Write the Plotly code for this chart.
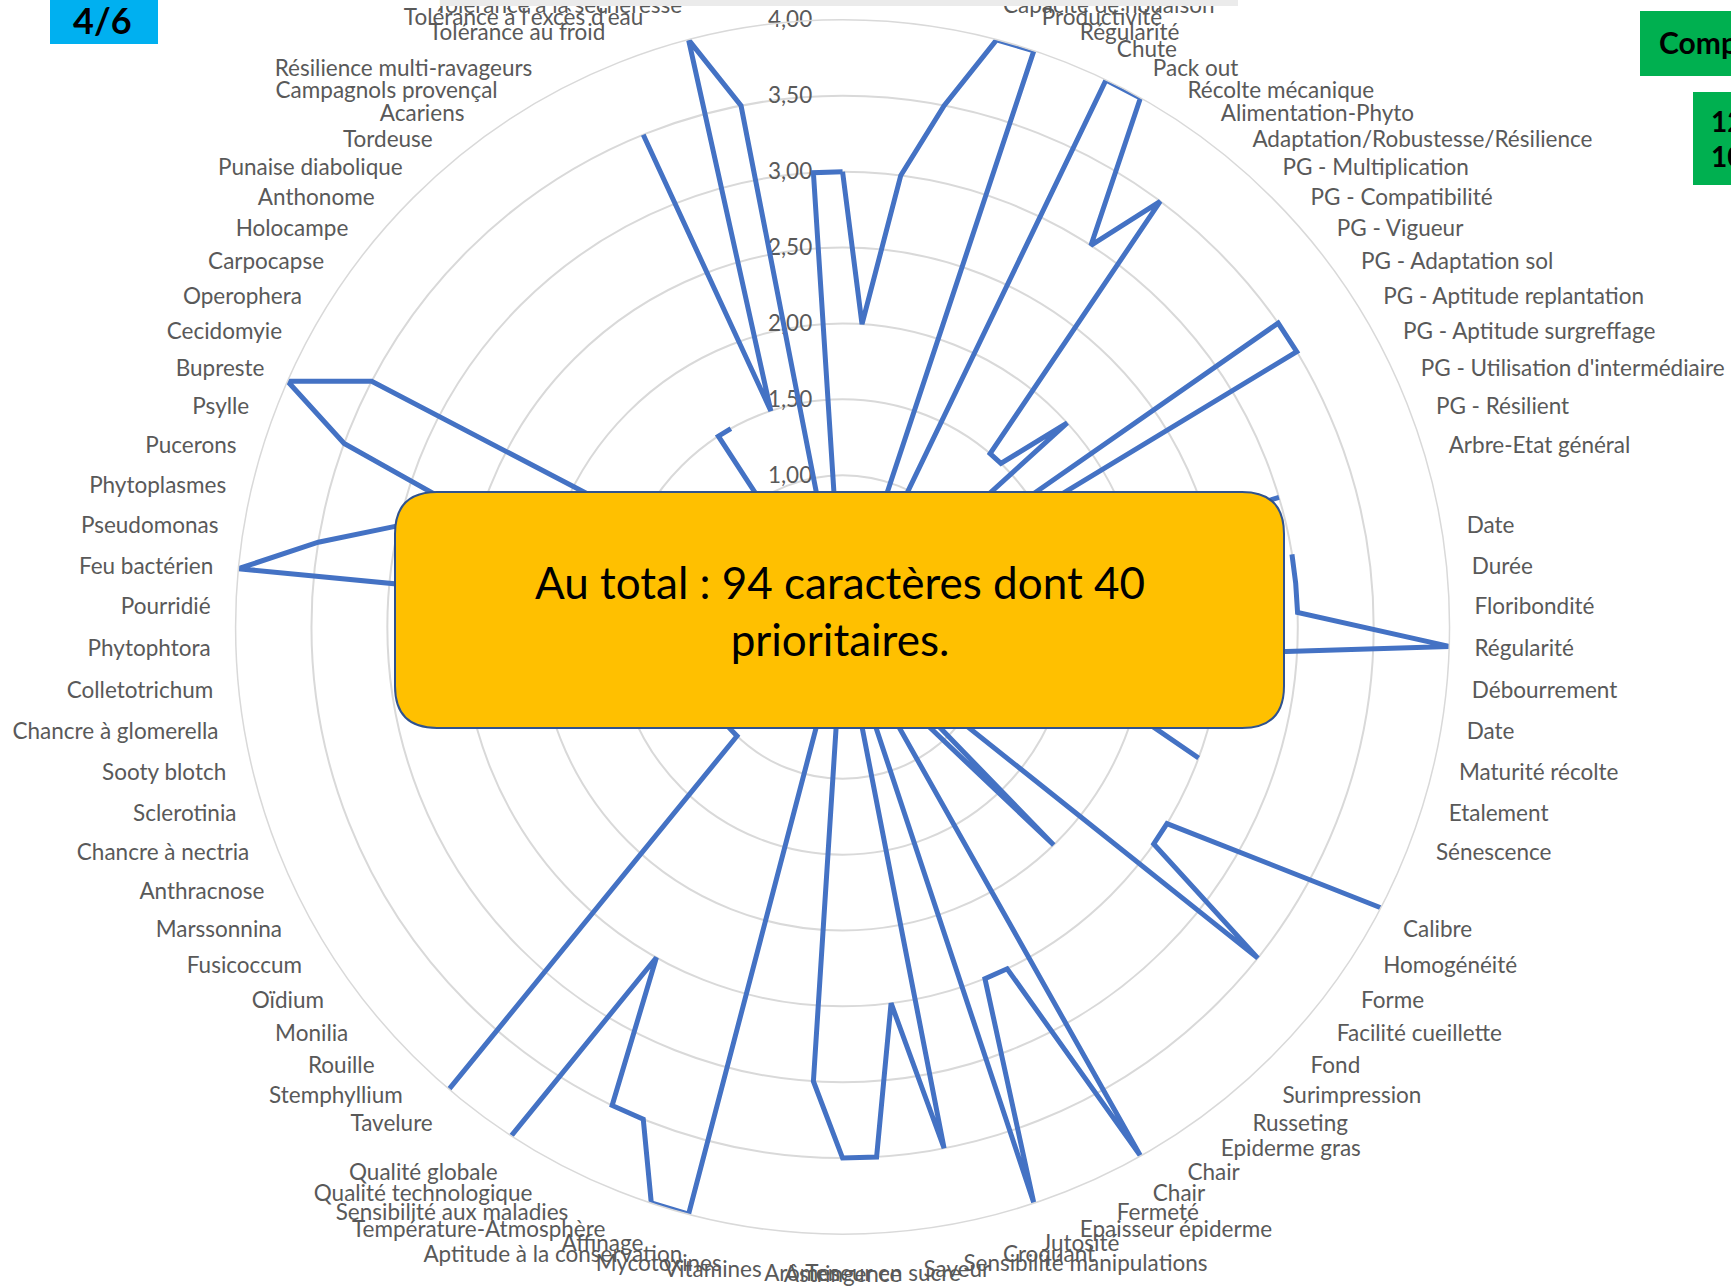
import plotly.graph_objects as go

W, H = 1731, 1287

# catégories (sens horaire, en partant du haut) ; "" = séparateur de groupe
categories = [
    "Arbre-Port", "Arbre-Architecture", "Arbre-Ramification", "Mise à fruit",
    "Capacité de nouaison", "Productivité", "Régularité", "Chute", "Pack out",
    "Récolte mécanique", "Alimentation-Phyto", "Adaptation/Robustesse/Résilience",
    "PG - Multiplication", "PG - Compatibilité", "PG - Vigueur", "PG - Adaptation sol",
    "PG - Aptitude replantation", "PG - Aptitude surgreffage",
    "PG - Utilisation d'intermédiaire", "PG - Résilient", "Arbre-Etat général", "",
    "Date", "Durée", "Floribondité", "Régularité", "Débourrement", "Date",
    "Maturité récolte", "Etalement", "Sénescence", "",
    "Calibre", "Homogénéité", "Forme", "Facilité cueillette", "Fond", "Surimpression",
    "Russeting", "Epiderme gras", "Chair", "Chair", "Fermeté", "Epaisseur épiderme",
    "Jutosité", "Croquant", "Sensibilité manipulations", "Saveur", "Teneur en sucre",
    "Astringence", "Arômes", "Vitamines", "Mycotoxines", "Aptitude à la conservation",
    "Affinage", "Température-Atmosphère", "Sensibilité aux maladies",
    "Qualité technologique", "Qualité globale", "",
    "Tavelure", "Stemphyllium", "Rouille", "Monilia", "Oïdium", "Fusicoccum",
    "Marssonnina", "Anthracnose", "Chancre à nectria", "Sclerotinia", "Sooty blotch",
    "Chancre à glomerella", "Colletotrichum", "Phytophtora", "Pourridié",
    "Feu bactérien", "Pseudomonas", "Phytoplasmes", "Pucerons", "Psylle", "Bupreste",
    "Cecidomyie", "Operophera", "Carpocapse", "Holocampe", "Anthonome",
    "Punaise diabolique", "Tordeuse", "Acariens", "Campagnols provençal",
    "Résilience multi-ravageurs", "",
    "Tolérance au froid", "Tolérance à l'excès d'eau", "Tolérance à la sécheresse",
    "Tolérance à la chaleur", "Tolérance aux coups de soleil", "Arbre-Vigueur",
]

# notes (None = case vide -> trou dans la ligne)
values = [
    3.0, 2.0, 3.0, 3.5, 4.0, 4.0, 0, 4.0, 4.0, 3.0,
    3.5, 1.5, 1.5, 2.0, 0, 3.5, 3.5, 0, 0, 0,
    3.0, None, 3.0, 3.0, 3.0, 4.0, 2.0, 0, 0, 2.0,
    2.5, None, 4.0, 2.5, 2.5, 3.5, 0, 2.0, 0.8, 0,
    0, 4.0, 2.5, 2.5, 4.0, 0, 3.5, 2.5, 3.5, 3.5,
    3.0, 0, 0, 4.0, 4.0, 3.5, 3.5, 2.5, 4.0, None,
    4.0, 1.0, 1.0, 0, 0, 0, 0, 0, 0, 0,
    0, 0, 0, 0, 0, 4.0, 3.5, 3.0, 2.5, 3.5,
    4.0, 3.5, 0, 0, 0, 0, 0, 0, 0, 1.5,
    1.5, None, 3.5, 1.5, 4.0, 3.5, 0, 3.0,
]

# plotly fusionne les catégories identiques : on les rend uniques avec des espaces invisibles
seen = {}
cats = []
for c in categories:
    n = seen.get(c, 0)
    seen[c] = n + 1
    if c == "":
        cats.append("\u200b" * (n + 1))
    else:
        cats.append(c + "\u200b" * n)

fig = go.Figure()
fig.add_trace(go.Scatterpolar(
    r=values + [values[0]],
    theta=cats + [cats[0]],
    mode="lines",
    connectgaps=False,
    line={"color": "#4472C4", "width": 5},
    hoverinfo="skip",
))


def px_x(x):
    return x / W


def px_y(y):
    return 1 - y / H


def rounded_box(l, t, r, b, rad):
    pts = [
        f"M {px_x(l + rad)},{px_y(t)}",
        f"L {px_x(r - rad)},{px_y(t)}",
        f"Q {px_x(r)},{px_y(t)} {px_x(r)},{px_y(t + rad)}",
        f"L {px_x(r)},{px_y(b - rad)}",
        f"Q {px_x(r)},{px_y(b)} {px_x(r - rad)},{px_y(b)}",
        f"L {px_x(l + rad)},{px_y(b)}",
        f"Q {px_x(l)},{px_y(b)} {px_x(l)},{px_y(b - rad)}",
        f"L {px_x(l)},{px_y(t + rad)}",
        f"Q {px_x(l)},{px_y(t)} {px_x(l + rad)},{px_y(t)}",
        "Z",
    ]
    return " ".join(pts)


def rect(x0, y0, x1, y1, color):
    return {"type": "rect", "xref": "paper", "yref": "paper", "layer": "above",
            "x0": px_x(x0), "x1": px_x(x1), "y0": px_y(y1), "y1": px_y(y0),
            "fillcolor": color, "line": {"width": 0}}


def note(x, y, text, size, anchor="center"):
    return {"xref": "paper", "yref": "paper", "x": px_x(x), "y": px_y(y),
            "xanchor": anchor, "yanchor": "middle", "text": text,
            "showarrow": False, "align": "center",
            "font": {"family": "Lato, Calibri, sans-serif", "size": size, "color": "black"}}


label_font = {"family": "Lato, Calibri, sans-serif", "size": 22.5, "color": "#595959"}

fig.update_layout(
    width=W, height=H,
    margin={"l": 0, "r": 0, "t": 0, "b": 0},
    paper_bgcolor="white",
    separators=", ",
    showlegend=False,
    polar={
        "domain": {"x": [0.1361, 0.8374], "y": [0.0412, 0.9845]},
        "bgcolor": "white",
        "gridshape": "circular",
        "radialaxis": {
            "range": [0, 4], "tick0": 0, "dtick": 0.5, "tickformat": ".2f",
            "angle": 90, "tickangle": 90, "side": "counterclockwise",
            "showline": False, "ticks": "outside", "ticklen": 22,
            "tickcolor": "rgba(0,0,0,0)", "gridcolor": "#D9D9D9", "gridwidth": 1.5,
            "tickfont": label_font, "layer": "below traces",
        },
        "angularaxis": {
            "type": "category", "categoryarray": cats, "tickmode": "array",
            "tickvals": cats, "ticktext": cats,
            "rotation": 90, "direction": "clockwise",
            "showgrid": False, "showline": True, "linecolor": "#D9D9D9",
            "linewidth": 1.5, "ticks": "outside", "ticklen": 20,
            "tickcolor": "rgba(0,0,0,0)", "tickfont": label_font,
        },
    },
    shapes=[
        {"type": "path", "xref": "paper", "yref": "paper", "layer": "above",
         "path": rounded_box(395, 492, 1284, 728, 42),
         "fillcolor": "#FFC000", "line": {"color": "#2F528F", "width": 2}},
        rect(440, 0, 1238, 6, "#EBEBEB"),
        rect(50, 0, 158, 44, "#00B0F0"),
        rect(1640, 11, 1740, 76, "#00B050"),
        rect(1693, 92, 1740, 185, "#00B050"),
    ],
    annotations=[
        note(840, 610, "Au total : 94 caractères dont 40<br>prioritaires.", 44),
        note(102, 20, "<b>4/6</b>", 36),
        note(1657, 42, "<b>Comparaison</b>", 30, "left"),
        note(1709, 121, "<b>12</b>", 28, "left"),
        note(1709, 156, "<b>10</b>", 28, "left"),
    ],
)

# la page html a une marge de 8 px par défaut : on la retire
fig.write_html(
    "out.html",
    config={"displayModeBar": False},
    post_script="document.body.style.margin='0';document.body.style.overflow='hidden';",
)
